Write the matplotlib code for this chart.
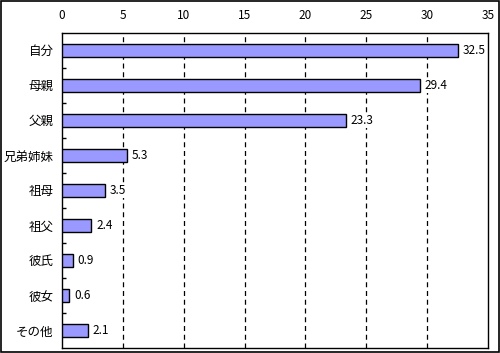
import matplotlib
matplotlib.use("Agg")
import matplotlib.pyplot as plt
from matplotlib.patches import Rectangle
from matplotlib.ticker import FixedLocator

plt.rcParams['font.family'] = ['Noto Sans CJK JP', 'DejaVu Sans']

categories = ["自分", "母親", "父親", "兄弟姉妹", "祖母", "祖父", "彼氏", "彼女", "その他"]
values = [32.5, 29.4, 23.3, 5.3, 3.5, 2.4, 0.9, 0.6, 2.1]
xticks = [0, 5, 10, 15, 20, 25, 30, 35]

fig = plt.figure(figsize=(5.0, 3.53), dpi=100)
fig.patches.append(Rectangle((0.002, 0.003), 0.996, 0.994, transform=fig.transFigure,
                             fill=False, edgecolor='black', linewidth=1.2))
ax = fig.add_axes([0.124, 0.014, 0.852, 0.893])

ypos = list(range(len(categories)))
ax.barh(ypos, values, height=0.39, color='#9999FF', edgecolor='black', linewidth=1.0, zorder=3)

for y, v in zip(ypos, values):
    ax.text(v + 0.4, y, f"{v}", va='center', ha='left', fontsize=8.5, zorder=4,
            bbox=dict(facecolor='white', edgecolor='none', pad=0.5))

ax.set_xlim(0, 35)
ax.set_ylim(len(categories) - 0.5, -0.5)
ax.xaxis.tick_top()
ax.set_xticks(xticks)
ax.set_xticklabels([str(t) for t in xticks], fontsize=8.5)
ax.tick_params(axis='x', length=0, pad=8)
for t in xticks[1:-1]:
    ax.axvline(t, color='black', linestyle=(0, (4, 3)), linewidth=0.9, zorder=1)

ax.set_yticks(ypos)
ax.set_yticklabels(categories, fontsize=9)
ax.tick_params(axis='y', which='major', length=0, pad=6)
ax.yaxis.set_minor_locator(FixedLocator([i + 0.5 for i in range(len(categories) - 1)]))
ax.tick_params(axis='y', which='minor', direction='in', length=3, width=1, color='black')

for s in ax.spines.values():
    s.set_linewidth(1.0)
    s.set_color('black')

fig.savefig("out.png", dpi=100)
